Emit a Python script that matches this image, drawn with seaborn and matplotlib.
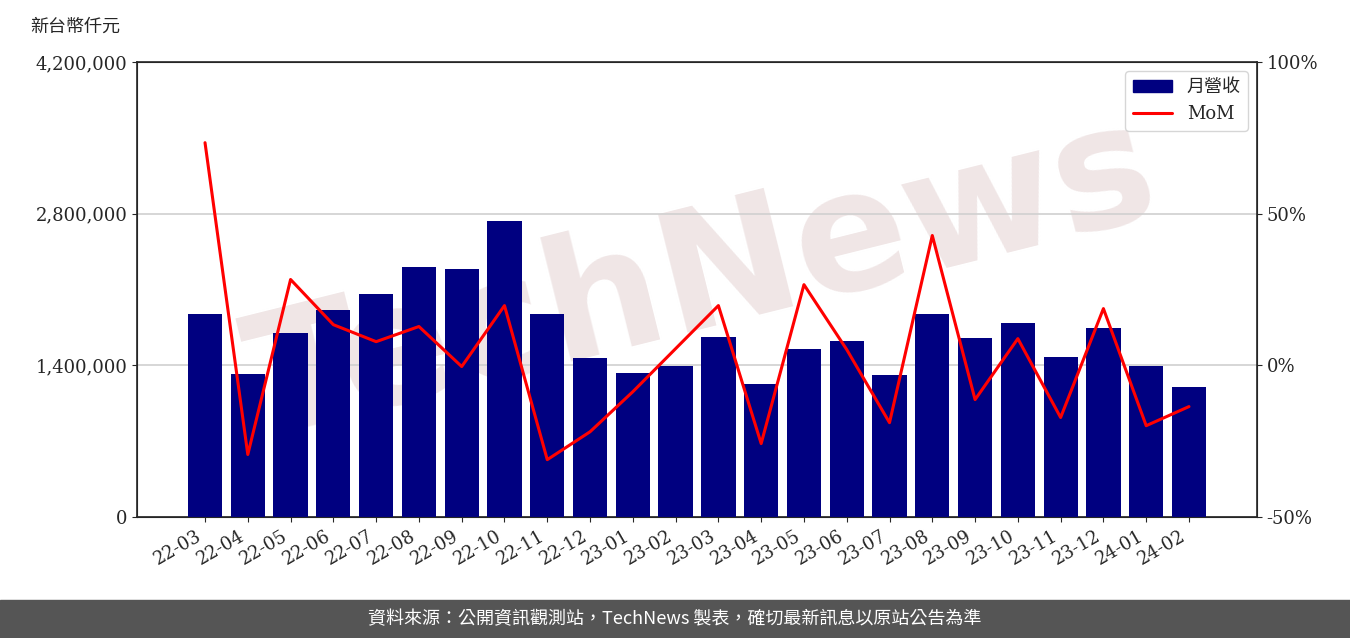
import matplotlib
matplotlib.use("Agg")
import matplotlib.pyplot as plt
import seaborn as sns
import numpy as np
import pandas as pd

months = ["22-03","22-04","22-05","22-06","22-07","22-08","22-09","22-10","22-11","22-12",
          "23-01","23-02","23-03","23-04","23-05","23-06","23-07","23-08","23-09","23-10",
          "23-11","23-12","24-01","24-02"]
revenue = [1874000,1320000,1698000,1911000,2058000,2308000,2289000,2732000,1874000,1468000,
           1329000,1394000,1662000,1228000,1551000,1625000,1311000,1874000,1652000,1791000,
           1477000,1745000,1394000,1200000]
mom = [73.4,-29.4,28.3,13.4,7.8,12.8,-0.4,19.7,-31.1,-21.9,-8.7,5.5,19.7,-25.8,26.6,5.2,
       -18.9,42.8,-11.3,8.8,-17.2,18.7,-19.9,-13.6]

sns.set_style("ticks")
plt.rcParams['font.family'] = ['DejaVu Serif', 'Noto Sans CJK TC']
cjk = ['Noto Sans CJK TC', 'DejaVu Sans']

fig = plt.figure(figsize=(13.5, 6.38), dpi=100)
ax = fig.add_axes([137/1350, 1-517/638, (1257-137)/1350, (517-62)/638])
ax.patch.set_alpha(0)
fig.text(0.52, 0.56, "TechNews", fontsize=120, color="#f0e6e6", rotation=14,
         ha="center", va="center", weight="bold", family="DejaVu Sans", zorder=-5)
df = pd.DataFrame({"m": months, "r": revenue})
sns.barplot(data=df, x="m", y="r", color="#000080", saturation=1, width=0.8, ax=ax,
            zorder=3, edgecolor="none", linewidth=0)
ax.set_ylim(0, 4200000)
ax.set_yticks([0, 1400000, 2800000, 4200000])
ax.set_yticklabels(["0", "1,400,000", "2,800,000", "4,200,000"], fontsize=13)
ax.yaxis.grid(True, color="#d0d0d0", lw=1.2, zorder=0)
ax.set_axisbelow(True)
ax.set_xlim(-1.59, len(months) - 1 + 1.59)
ax.set_xlabel(""); ax.set_ylabel("")
plt.setp(ax.get_xticklabels(), rotation=30, ha="right", fontsize=13)
ax2 = ax.twinx()
sns.lineplot(x=np.arange(len(months)), y=mom, color="red", lw=2.2, ax=ax2, legend=False)
ax2.set_ylim(-50, 100)
ax2.set_yticks([-50, 0, 50, 100])
ax2.set_yticklabels(["-50%", "0%", "50%", "100%"], fontsize=13)
bar_handle = plt.Rectangle((0, 0), 1, 1, color="#000080")
line_handle = plt.Line2D([], [], color="red", lw=2.2)
ax2.legend([bar_handle, line_handle], ["月營收", "MoM"], loc="upper right",
           prop={'family': ['DejaVu Serif', 'Noto Sans CJK TC'], 'size': 13}, handlelength=2.2)
for sp in ax.spines.values(): sp.set_linewidth(1.2)
fig.text(30/1350, 1-27/638, "新台幣仟元", family=cjk, fontsize=13, va="center")
fig.patches.append(plt.Rectangle((0, 0), 1, 38/638, transform=fig.transFigure, color="#555555", zorder=5))
fig.text(0.5, 19/638, "資料來源：公開資訊觀測站，TechNews 製表，確切最新訊息以原站公告為準", family=cjk,
         color="white", fontsize=13, ha="center", va="center", zorder=6)
fig.savefig("out.png", dpi=100)
